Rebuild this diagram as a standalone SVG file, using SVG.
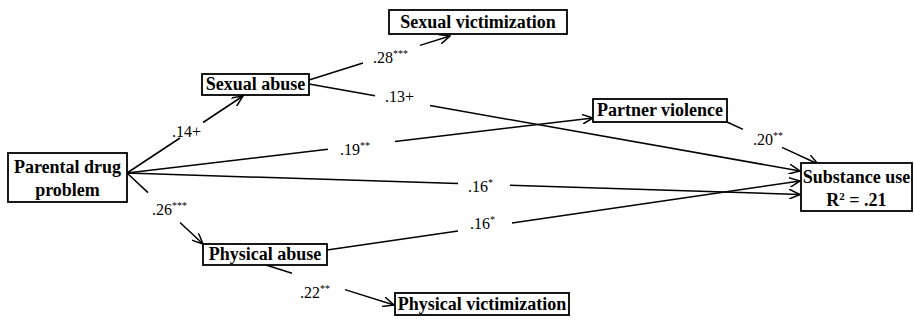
<svg xmlns="http://www.w3.org/2000/svg" width="914" height="320" viewBox="0 0 914 320">
<style>
.box{fill:#fff;stroke:#000;stroke-width:1.8}
.nt{font-family:"Liberation Serif","Times New Roman",serif;font-weight:bold;font-size:18px;fill:#000;text-anchor:middle}
.lb{font-family:"Liberation Serif","Times New Roman",serif;font-size:16px;fill:#000}
.sup{font-size:10px}
.ln{fill:none;stroke:#000;stroke-width:1.5}
</style>
<defs>
<marker id="ah" viewBox="0 0 12 10" refX="11" refY="5" markerWidth="12" markerHeight="10" markerUnits="userSpaceOnUse" orient="auto">
<path d="M0,0 L11,5 L0,10" fill="none" stroke="#000" stroke-width="1.5"/>
</marker>
</defs>
<rect width="914" height="320" fill="#fff"/>
<g id="connectors">
<path class="ln" d="M127,173 L180,138 M203,122.5 L243,96" marker-end="url(#ah)"/>
<path class="ln" d="M309,80 L363,63 M420,45.4 L450,36" marker-end="url(#ah)"/>
<path class="ln" d="M309,84 L375,95.7 M430,105.5 L800,171" marker-end="url(#ah)"/>
<path class="ln" d="M127,173 L328,149.3 M395,141.4 L593,118" marker-end="url(#ah)"/>
<path class="ln" d="M127,173 L458,183.6 M510,185.2 L800,194.5" marker-end="url(#ah)"/>
<path class="ln" d="M127,173 L148,192.6 M180,222.5 L203,244" marker-end="url(#ah)"/>
<path class="ln" d="M327,250 L458,230.9 M512,223 L800,181" marker-end="url(#ah)"/>
<path class="ln" d="M266,265 L292,273.3 M345,289.6 L394,305" marker-end="url(#ah)"/>
<path class="ln" d="M727,122 L743,129.4 M782,147.4 L818,164" marker-end="url(#ah)"/>
</g>
<g id="labels">
<text class="lb" x="172" y="137">.14+</text>
<text class="lb" x="373" y="63">.28<tspan class="sup" dy="-6">***</tspan></text>
<text class="lb" x="385" y="102">.13+</text>
<text class="lb" x="340" y="155">.19<tspan class="sup" dy="-6">**</tspan></text>
<text class="lb" x="468" y="192">.16<tspan class="sup" dy="-6">*</tspan></text>
<text class="lb" x="753" y="145">.20<tspan class="sup" dy="-6">**</tspan></text>
<text class="lb" x="152" y="215">.26<tspan class="sup" dy="-6">***</tspan></text>
<text class="lb" x="470" y="229">.16<tspan class="sup" dy="-6">*</tspan></text>
<text class="lb" x="300" y="298">.22<tspan class="sup" dy="-6">**</tspan></text>
</g>
<g id="parental">
<rect class="box" x="8" y="153" width="119" height="49"/>
<text class="nt" x="67.5" y="173">Parental drug</text>
<text class="nt" x="67.5" y="196">problem</text>
</g>
<g id="sexual-abuse">
<rect class="box" x="202" y="74" width="107" height="21"/>
<text class="nt" x="255.5" y="90">Sexual abuse</text>
</g>
<g id="sexual-victimization">
<rect class="box" x="389" y="10" width="178" height="24"/>
<text class="nt" x="478" y="28" font-size="19">Sexual victimization</text>
</g>
<g id="partner-violence">
<rect class="box" x="593" y="99" width="134" height="23"/>
<text class="nt" x="660" y="116">Partner violence</text>
</g>
<g id="substance-use">
<rect class="box" x="801" y="163" width="111" height="48"/>
<text class="nt" x="856.5" y="183">Substance use</text>
<text class="nt" x="856.5" y="206">R<tspan font-size="11" dy="-6">2</tspan><tspan dy="6"> = .21</tspan></text>
</g>
<g id="physical-abuse">
<rect class="box" x="203" y="244" width="124" height="21"/>
<text class="nt" x="265" y="260">Physical abuse</text>
</g>
<g id="physical-victimization">
<rect class="box" x="395" y="293" width="174" height="22"/>
<text class="nt" x="482" y="310" font-size="19">Physical victimization</text>
</g>
</svg>
